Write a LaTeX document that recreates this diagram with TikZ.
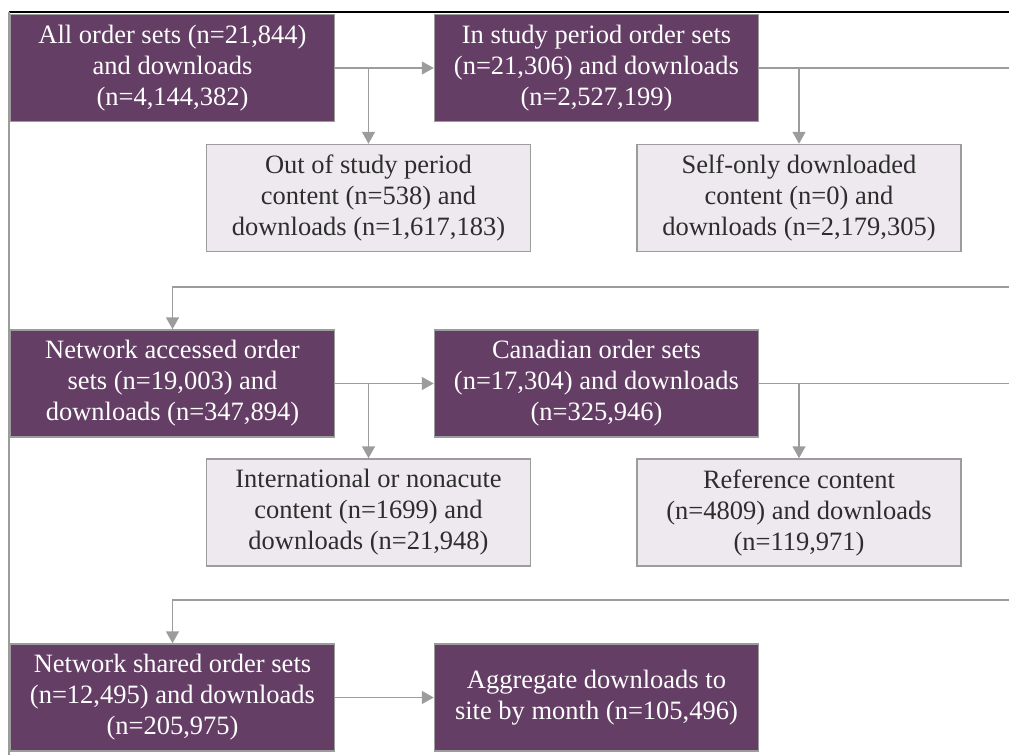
\documentclass[tikz,border=0pt]{standalone}
\usepackage{fontspec}
\setmainfont{Liberation Serif}
\usepackage{tikz}
\usetikzlibrary{arrows.meta}
\definecolor{plum}{RGB}{100,62,101}
\definecolor{lilac}{RGB}{238,233,238}
\definecolor{edgegrey}{RGB}{156,156,156}
\definecolor{textgrey}{RGB}{45,45,45}

\begin{document}
\begin{tikzpicture}[x=1pt,y=-1pt,
	keptbox/.style={draw=edgegrey,line width=1.5pt,fill=plum,text=white,align=center,
		minimum width=324pt,minimum height=107pt,inner sep=0pt,
		font=\fontsize{26.5}{31}\selectfont},
	dropbox/.style={keptbox,fill=lilac,text=textgrey},
	flow/.style={draw=edgegrey,line width=1.5pt},
	flowarr/.style={flow,-{Triangle[width=13pt,length=12pt]}}]
				\useasboundingbox (0,0) rectangle (1009,755);
				%\draw (0,0) grid[step=50] (1009,755);
				\draw[black,line width=2pt] (9,12) -- (1009,12);
				\draw[edgegrey,line width=1.5pt] (9,12) -- (9,755);
				\node[keptbox] (allsets) at (172.5,68) {All order sets (n=21,844)\\ and downloads\\ (n=4,144,382)};
				\node[keptbox] (studyperiod) at (596.5,68) {In study period order sets\\ (n=21,306) and downloads\\ (n=2,527,199)};
				\node[dropbox] (outperiod) at (368.5,198) {Out of study period\\ content (n=538) and\\ downloads (n=1,617,183)};
				\node[dropbox] (selfonly) at (799,198) {Self-only downloaded\\ content (n=0) and\\ downloads (n=2,179,305)};
				\node[keptbox] (netaccess) at (172.5,383.5) {Network accessed order\\ sets (n=19,003) and\\ downloads (n=347,894)};
				\node[keptbox] (canadian) at (596.5,383.5) {Canadian order sets\\ (n=17,304) and downloads\\ (n=325,946)};
				\node[dropbox] (international) at (368.5,512.5) {International or nonacute\\ content (n=1699) and\\ downloads (n=21,948)};
				\node[dropbox] (reference) at (799,512.5) {Reference content\\ (n=4809) and downloads\\ (n=119,971)};
				\node[keptbox] (netshared) at (172.5,697.5) {Network shared order sets\\ (n=12,495) and downloads\\ (n=205,975)};
				\node[keptbox] (aggregate) at (596.5,697.5) {Aggregate downloads to\\ site by month (n=105,496)};
				\coordinate (wrapa) at (1009,68);
				\coordinate (backa) at (1009,287);
				\coordinate (wrapb) at (1009,383.5);
				\coordinate (backb) at (1009,600);
				\draw[flowarr] (allsets) -- (studyperiod);
				\draw[flowarr] (outperiod.north |- allsets) -- (outperiod);
				\draw[flow] (studyperiod) -- (wrapa);
				\draw[flowarr] (selfonly.north |- studyperiod) -- (selfonly);
				\draw[flowarr] (backa) -- (netaccess.north |- backa) -- (netaccess);
				\draw[flowarr] (netaccess) -- (canadian);
				\draw[flowarr] (international.north |- netaccess) -- (international);
				\draw[flow] (canadian) -- (wrapb);
				\draw[flowarr] (reference.north |- canadian) -- (reference);
				\draw[flowarr] (backb) -- (netshared.north |- backb) -- (netshared);
				\draw[flowarr] (netshared) -- (aggregate);
			\end{tikzpicture}
\end{document}
